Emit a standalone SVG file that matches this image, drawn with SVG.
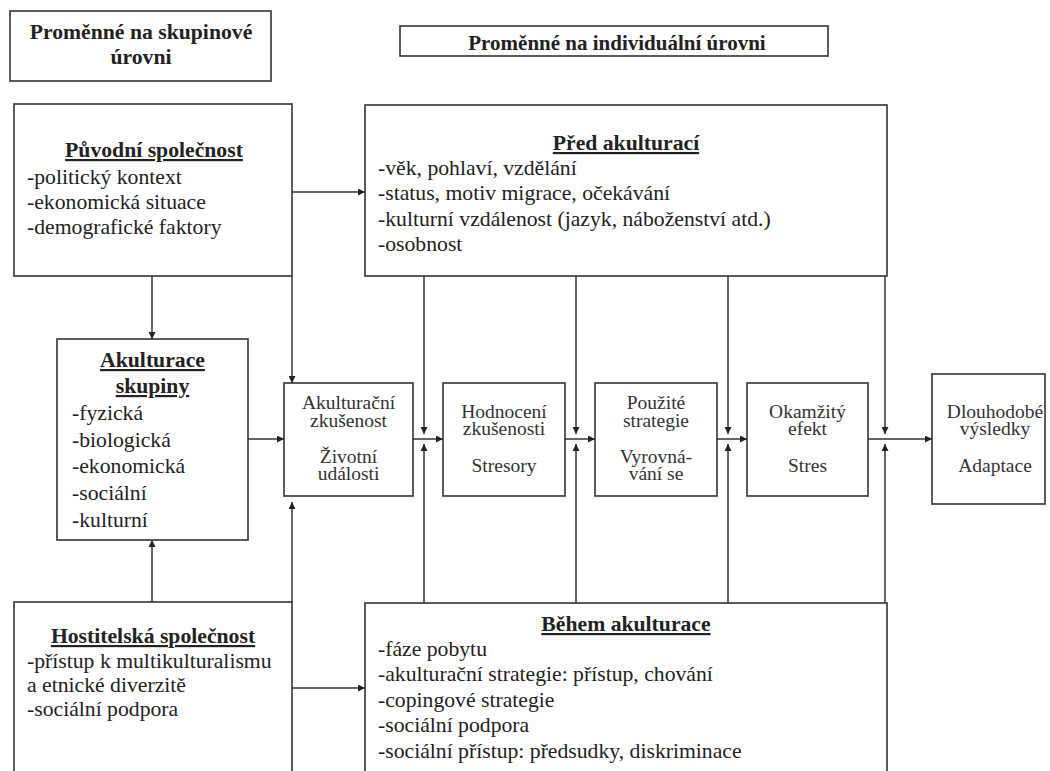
<svg xmlns="http://www.w3.org/2000/svg" width="1050" height="771" viewBox="0 0 1050 771">
<defs>
<marker id="ah" viewBox="0 0 10 10" refX="10" refY="5" markerWidth="9" markerHeight="7" markerUnits="userSpaceOnUse" orient="auto">
<path d="M0,0 L10,5 L0,10 z" fill="#222"/>
</marker>
<style>
.box{fill:#fff;stroke:#333;stroke-width:1.6}
.t{font-family:"Liberation Serif","Times New Roman",serif;font-size:21.7px;fill:#222}
.b{font-weight:bold}
.u{text-decoration:underline}
.m{text-anchor:middle}
.c{font-family:"Liberation Serif","Times New Roman",serif;font-size:19.5px;fill:#333;text-anchor:middle}
.ln{fill:none;stroke:#333;stroke-width:1.5}
.ar{fill:none;stroke:#333;stroke-width:1.5;marker-end:url(#ah)}
</style>
</defs>
<rect width="1050" height="771" fill="#fff"/>

<g id="connectors">
<line class="ar" x1="292" y1="192" x2="365" y2="192"/>
<line class="ar" x1="152" y1="276" x2="152" y2="339"/>
<line class="ar" x1="292" y1="276" x2="292" y2="383"/>
<line class="ar" x1="152" y1="602" x2="152" y2="540"/>
<line class="ar" x1="292" y1="602" x2="292" y2="502"/>
<line class="ar" x1="292" y1="688" x2="365" y2="688"/>
<line class="ar" x1="248" y1="439" x2="284" y2="439"/>
<line class="ar" x1="413" y1="439" x2="443" y2="439"/>
<line class="ar" x1="565" y1="439" x2="595" y2="439"/>
<line class="ar" x1="717" y1="439" x2="747" y2="439"/>
<line class="ar" x1="868" y1="439" x2="932" y2="439"/>
<line class="ar" x1="424" y1="276" x2="424" y2="434"/>
<line class="ar" x1="576" y1="276" x2="576" y2="434"/>
<line class="ar" x1="728" y1="276" x2="728" y2="434"/>
<line class="ar" x1="885" y1="276" x2="885" y2="434"/>
<line class="ar" x1="424" y1="603" x2="424" y2="444"/>
<line class="ar" x1="576" y1="603" x2="576" y2="444"/>
<line class="ar" x1="728" y1="603" x2="728" y2="444"/>
<line class="ar" x1="885" y1="603" x2="885" y2="444"/>
</g>

<g id="hdr-group">
<rect class="box" x="10" y="11" width="261" height="70"/>
<text class="t b m" x="141" y="39">Proměnné na skupinové</text>
<text class="t b m" x="141" y="64">úrovni</text>
</g>

<g id="hdr-individual">
<rect class="box" x="400" y="26" width="428" height="30"/>
<text class="t b m" x="617" y="50" style="font-size:21px">Proměnné na individuální úrovni</text>
</g>

<g id="puvodni">
<rect class="box" x="14" y="104" width="278" height="172"/>
<text class="t b u m" x="154" y="157">Původní společnost</text>
<text class="t" x="27" y="184">-politický kontext</text>
<text class="t" x="27" y="209">-ekonomická situace</text>
<text class="t" x="27" y="234">-demografické faktory</text>
</g>

<g id="pred">
<rect class="box" x="365" y="105" width="522" height="171"/>
<text class="t b u m" x="626" y="150">Před akulturací</text>
<text class="t" x="378" y="175">-věk, pohlaví, vzdělání</text>
<text class="t" x="378" y="200">-status, motiv migrace, očekávání</text>
<text class="t" x="378" y="226">-kulturní vzdálenost (jazyk, náboženství atd.)</text>
<text class="t" x="378" y="251">-osobnost</text>
</g>

<g id="akulturace-skupiny">
<rect class="box" x="57" y="339" width="191" height="201"/>
<text class="t b u m" x="152.5" y="367">Akulturace</text>
<text class="t b u m" x="152.5" y="393">skupiny</text>
<text class="t" x="72" y="420">-fyzická</text>
<text class="t" x="72" y="447">-biologická</text>
<text class="t" x="72" y="473">-ekonomická</text>
<text class="t" x="72" y="500">-sociální</text>
<text class="t" x="72" y="527">-kulturní</text>
</g>

<g id="akulturacni-zkusenost">
<rect class="box" x="284" y="383" width="129" height="113"/>
<text class="c" x="348.5" y="409">Akulturační</text>
<text class="c" x="348.5" y="427">zkušenost</text>
<text class="c" x="348.5" y="463">Životní</text>
<text class="c" x="348.5" y="480">události</text>
</g>

<g id="hodnoceni">
<rect class="box" x="443" y="383" width="122" height="113"/>
<text class="c" x="504" y="418">Hodnocení</text>
<text class="c" x="504" y="435">zkušenosti</text>
<text class="c" x="504" y="472">Stresory</text>
</g>

<g id="pouzite">
<rect class="box" x="595" y="383" width="122" height="113"/>
<text class="c" x="656" y="409">Použité</text>
<text class="c" x="656" y="427">strategie</text>
<text class="c" x="656" y="463">Vyrovná-</text>
<text class="c" x="656" y="480">vání se</text>
</g>

<g id="okamzity">
<rect class="box" x="747" y="383" width="121" height="113"/>
<text class="c" x="807.5" y="418">Okamžitý</text>
<text class="c" x="807.5" y="435">efekt</text>
<text class="c" x="807.5" y="472">Stres</text>
</g>

<g id="dlouhodobe">
<rect class="box" x="932" y="374" width="113" height="130"/>
<text class="c" x="995" y="418">Dlouhodobé</text>
<text class="c" x="995" y="435">výsledky</text>
<text class="c" x="995" y="472">Adaptace</text>
</g>

<g id="hostitelska">
<rect class="box" x="14" y="602" width="278" height="200"/>
<text class="t b u m" x="153" y="643">Hostitelská společnost</text>
<text class="t" x="27" y="668">-přístup k multikulturalismu</text>
<text class="t" x="27" y="692">a etnické diverzitě</text>
<text class="t" x="27" y="716">-sociální podpora</text>
</g>

<g id="behem">
<rect class="box" x="365" y="603" width="522" height="200"/>
<text class="t b u m" x="626" y="631">Během akulturace</text>
<text class="t" x="378" y="656">-fáze pobytu</text>
<text class="t" x="378" y="681">-akulturační strategie: přístup, chování</text>
<text class="t" x="378" y="707">-copingové strategie</text>
<text class="t" x="378" y="732">-sociální podpora</text>
<text class="t" x="378" y="758">-sociální přístup: předsudky, diskriminace</text>
</g>
</svg>
